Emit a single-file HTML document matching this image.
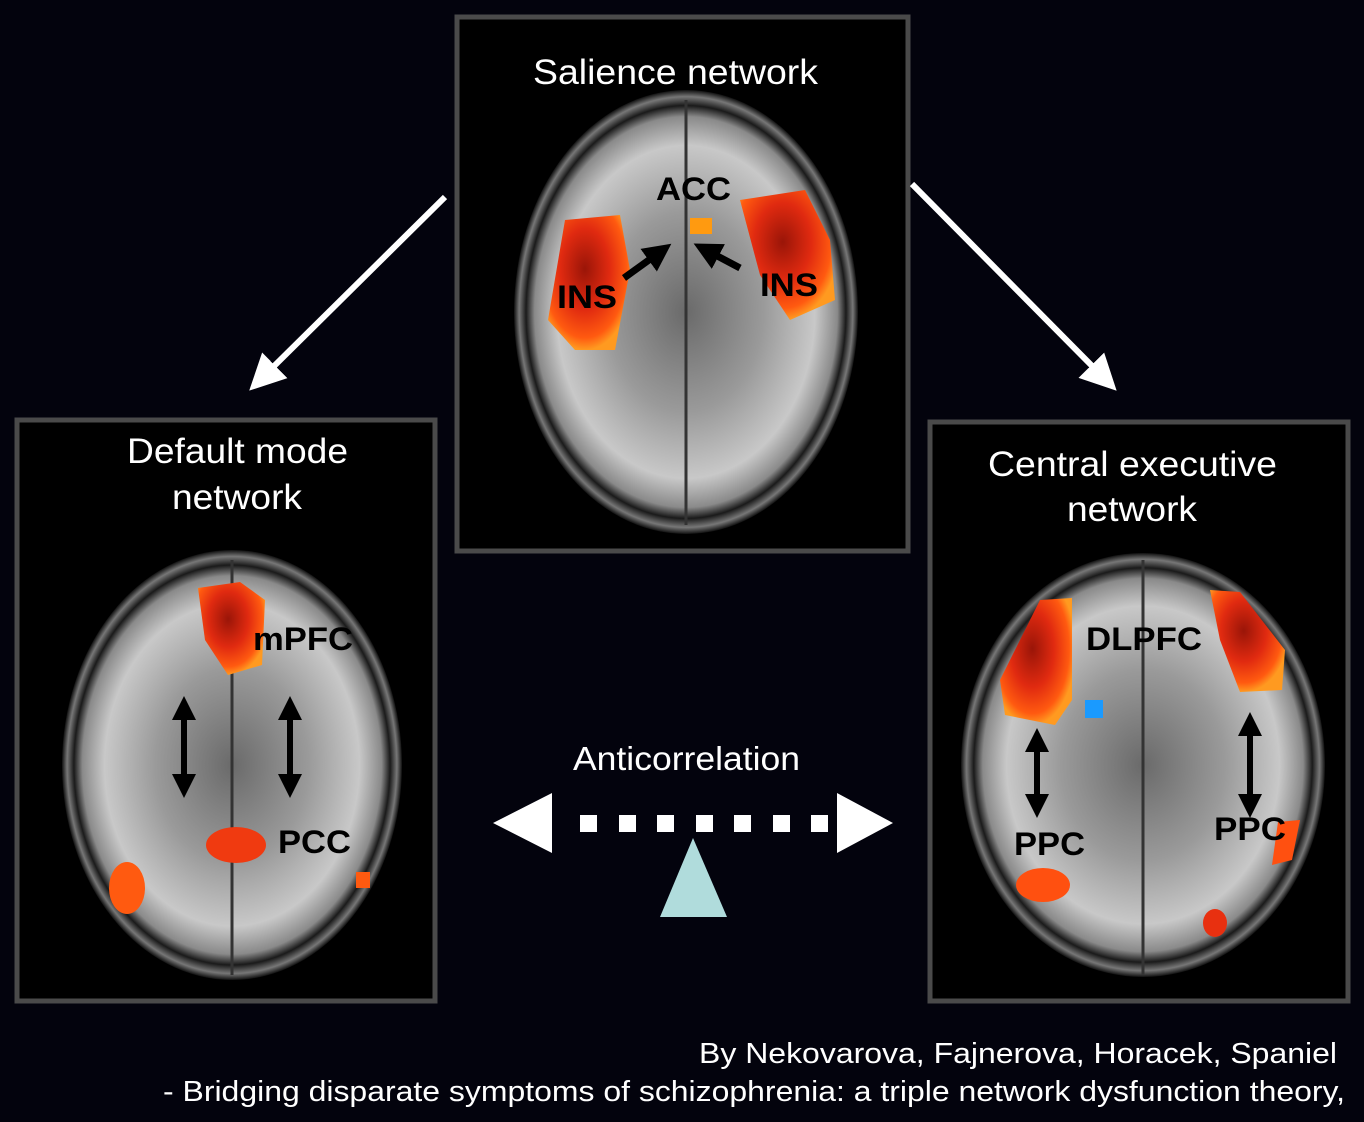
<!DOCTYPE html>
<html><head><meta charset="utf-8"><style>
html,body{margin:0;padding:0;background:#03030d;}
svg{display:block}
text{font-family:"Liberation Sans",sans-serif}
</style></head><body>
<svg width="1364" height="1122" viewBox="0 0 1364 1122" xmlns="http://www.w3.org/2000/svg">
<defs>
<radialGradient id="br" cx="50%" cy="50%" r="50%">
<stop offset="0" stop-color="#6a6a6a"/><stop offset="0.45" stop-color="#9a9a9a"/><stop offset="0.75" stop-color="#c8c8c8"/><stop offset="0.88" stop-color="#8a8a8a"/><stop offset="0.93" stop-color="#1a1a1a"/><stop offset="0.97" stop-color="#777"/><stop offset="1" stop-color="#111"/>
</radialGradient>
<radialGradient id="rd" cx="45%" cy="40%" r="60%">
<stop offset="0" stop-color="#9a1508"/><stop offset="0.5" stop-color="#e02a10"/><stop offset="0.85" stop-color="#ff5a10"/><stop offset="1" stop-color="#ff9a20"/>
</radialGradient>
<marker id="wa" markerWidth="6" markerHeight="6" refX="3" refY="3" orient="auto" markerUnits="strokeWidth"><path d="M0,0 L6,3 L0,6 Z" fill="#fff"/></marker>
<marker id="ka" markerWidth="4" markerHeight="4" refX="2" refY="2" orient="auto-start-reverse" markerUnits="strokeWidth"><path d="M0,0 L4,2 L0,4 Z" fill="#000"/></marker>
</defs>
<rect width="1364" height="1122" fill="#03030d"/>

<!-- top box -->
<rect x="457" y="17" width="451" height="534" fill="#000" stroke="#4a4a4a" stroke-width="5"/>
<text x="533" y="84" fill="#fff" font-size="35" textLength="285" lengthAdjust="spacingAndGlyphs">Salience network</text>
<ellipse cx="686" cy="312" rx="172" ry="222" fill="url(#br)"/>
<line x1="686" y1="100" x2="686" y2="525" stroke="#333" stroke-width="3"/>
<path d="M565,220 L620,215 L630,270 L615,350 L575,350 L548,320 Z" fill="url(#rd)"/>
<path d="M740,200 L805,190 L830,240 L835,300 L790,320 L760,275 Z" fill="url(#rd)"/>
<rect x="690" y="218" width="22" height="16" fill="#ff9a10"/>
<text x="656" y="200" fill="#000" font-size="32" font-weight="bold" textLength="75" lengthAdjust="spacingAndGlyphs">ACC</text>
<text x="557" y="308" fill="#000" font-size="32" font-weight="bold" textLength="60" lengthAdjust="spacingAndGlyphs">INS</text>
<text x="760" y="296" fill="#000" font-size="32" font-weight="bold" textLength="58" lengthAdjust="spacingAndGlyphs">INS</text>
<line x1="624" y1="278" x2="660" y2="252" stroke="#000" stroke-width="7" marker-end="url(#ka)"/>
<line x1="740" y1="268" x2="706" y2="250" stroke="#000" stroke-width="7" marker-end="url(#ka)"/>

<!-- diagonal arrows -->
<line x1="445" y1="197" x2="262" y2="378" stroke="#fff" stroke-width="6" marker-end="url(#wa)"/>
<line x1="912" y1="184" x2="1104" y2="378" stroke="#fff" stroke-width="6" marker-end="url(#wa)"/>

<!-- left box -->
<rect x="17" y="420" width="418" height="581" fill="#000" stroke="#4a4a4a" stroke-width="5"/>
<text x="127" y="463" fill="#fff" font-size="35" textLength="221" lengthAdjust="spacingAndGlyphs">Default mode</text>
<text x="172" y="509" fill="#fff" font-size="35" textLength="130" lengthAdjust="spacingAndGlyphs">network</text>
<ellipse cx="232" cy="765" rx="170" ry="215" fill="url(#br)"/>
<line x1="232" y1="560" x2="232" y2="975" stroke="#333" stroke-width="3"/>
<path d="M198,588 L240,582 L265,600 L262,665 L228,675 L205,640 Z" fill="url(#rd)"/>
<ellipse cx="236" cy="845" rx="30" ry="18" fill="#f03a10"/>
<ellipse cx="127" cy="888" rx="18" ry="26" fill="#ff5a10"/>
<rect x="356" y="872" width="14" height="16" fill="#ff5a10"/>
<text x="253" y="650" fill="#000" font-size="32" font-weight="bold" textLength="100" lengthAdjust="spacingAndGlyphs">mPFC</text>
<text x="278" y="853" fill="#000" font-size="32" font-weight="bold" textLength="73" lengthAdjust="spacingAndGlyphs">PCC</text>
<line x1="184" y1="708" x2="184" y2="786" stroke="#000" stroke-width="6" marker-start="url(#ka)" marker-end="url(#ka)"/>
<line x1="290" y1="708" x2="290" y2="786" stroke="#000" stroke-width="6" marker-start="url(#ka)" marker-end="url(#ka)"/>

<!-- right box -->
<rect x="930" y="422" width="418" height="579" fill="#000" stroke="#4a4a4a" stroke-width="5"/>
<text x="988" y="476" fill="#fff" font-size="35" textLength="289" lengthAdjust="spacingAndGlyphs">Central executive</text>
<text x="1067" y="521" fill="#fff" font-size="35" textLength="130" lengthAdjust="spacingAndGlyphs">network</text>
<ellipse cx="1143" cy="765" rx="182" ry="212" fill="url(#br)"/>
<line x1="1143" y1="560" x2="1143" y2="975" stroke="#333" stroke-width="3"/>
<path d="M1040,600 L1072,598 L1072,700 L1055,725 L1005,715 L1000,680 Z" fill="url(#rd)"/>
<path d="M1210,590 L1240,592 L1285,650 L1282,690 L1240,692 L1220,640 Z" fill="url(#rd)"/>
<rect x="1085" y="700" width="18" height="18" fill="#1a9aff"/>
<ellipse cx="1043" cy="885" rx="27" ry="17" fill="#ff5010"/>
<ellipse cx="1215" cy="923" rx="12" ry="14" fill="#e83010"/>
<path d="M1278,822 L1300,820 L1292,860 L1272,865 Z" fill="#ff5010"/>
<text x="1086" y="650" fill="#000" font-size="32" font-weight="bold" textLength="116" lengthAdjust="spacingAndGlyphs">DLPFC</text>
<text x="1014" y="855" fill="#000" font-size="32" font-weight="bold" textLength="71" lengthAdjust="spacingAndGlyphs">PPC</text>
<text x="1214" y="840" fill="#000" font-size="32" font-weight="bold" textLength="72" lengthAdjust="spacingAndGlyphs">PPC</text>
<line x1="1037" y1="740" x2="1037" y2="806" stroke="#000" stroke-width="6" marker-start="url(#ka)" marker-end="url(#ka)"/>
<line x1="1250" y1="724" x2="1250" y2="806" stroke="#000" stroke-width="6" marker-start="url(#ka)" marker-end="url(#ka)"/>

<!-- anticorrelation -->
<text x="573" y="770" fill="#fff" font-size="33" textLength="227" lengthAdjust="spacingAndGlyphs">Anticorrelation</text>
<polygon points="493,823 552,793 552,853" fill="#fff"/>
<polygon points="893,823 837,793 837,853" fill="#fff"/>
<g fill="#fff">
<rect x="580" y="815" width="17" height="17"/><rect x="619" y="815" width="17" height="17"/><rect x="657" y="815" width="17" height="17"/><rect x="696" y="815" width="17" height="17"/><rect x="734" y="815" width="17" height="17"/><rect x="773" y="815" width="17" height="17"/><rect x="811" y="815" width="17" height="17"/>
</g>
<polygon points="693,838 660,917 727,917" fill="#b0dcdc"/>

<text x="699" y="1063" fill="#fff" font-size="29" textLength="638" lengthAdjust="spacingAndGlyphs">By Nekovarova, Fajnerova, Horacek, Spaniel</text>
<text x="163" y="1101" fill="#fff" font-size="29" textLength="1182" lengthAdjust="spacingAndGlyphs">- Bridging disparate symptoms of schizophrenia: a triple network dysfunction theory,</text>
</svg>
</body></html>
